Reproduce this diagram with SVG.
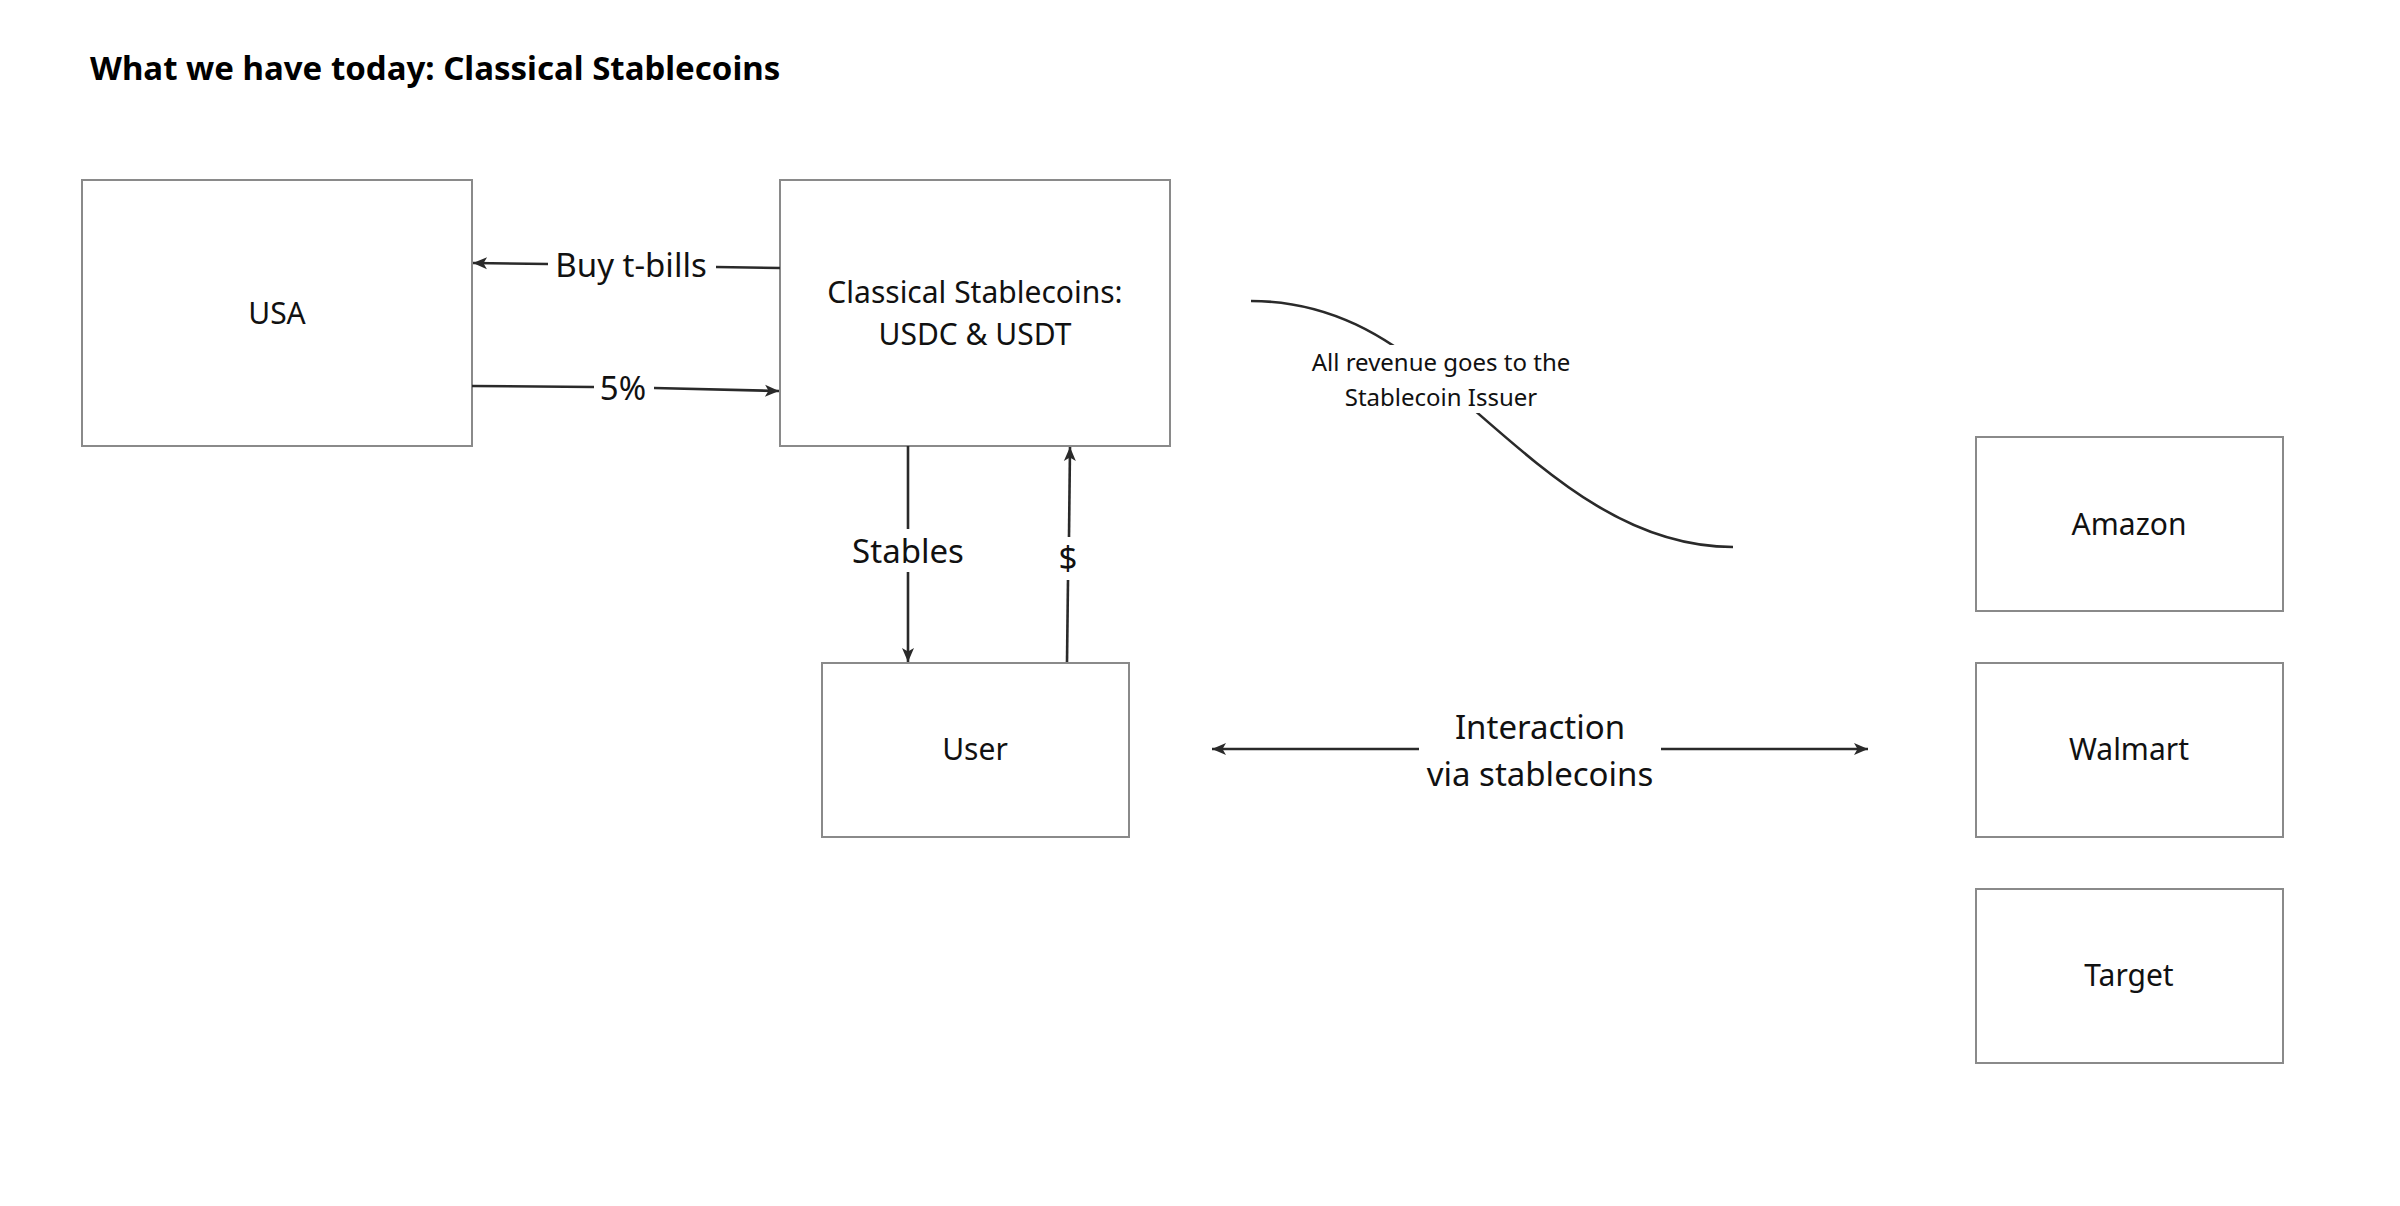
<svg xmlns="http://www.w3.org/2000/svg" width="2400" height="1206" viewBox="0 0 2400 1206">
<style>
.box{fill:#fff;stroke:#8a8a8a;stroke-width:2}
.nt{font-family:"Noto Sans","Open Sans",sans-serif;font-size:30px;fill:#111;text-anchor:middle}
.el{font-family:"Noto Sans","Open Sans",sans-serif;font-size:33px;fill:#111;text-anchor:middle}
.sm{font-family:"Noto Sans","Open Sans",sans-serif;font-size:24px;fill:#111;text-anchor:middle}
.ln{fill:none;stroke:#2a2a2a;stroke-width:2.6}
.ttl{font-family:"Noto Sans","Open Sans",sans-serif;font-size:33px;font-weight:bold;fill:#000}
</style>
<defs>
<marker id="ah" viewBox="0 0 16 16" refX="15" refY="8" markerWidth="16" markerHeight="16" markerUnits="userSpaceOnUse" orient="auto">
<path d="M1,2 L15,8 L1,14 L4.5,8 z" fill="#2a2a2a"/>
</marker>
<mask id="curveMask" maskUnits="userSpaceOnUse" x="0" y="0" width="2400" height="1206">
<rect x="0" y="0" width="2400" height="1206" fill="#fff"/>
<rect x="1300" y="345" width="290" height="68" fill="#000"/>
</mask>
</defs>
<rect width="2400" height="1206" fill="#fff"/>
<text class="ttl" x="90" y="80">What we have today: Classical Stablecoins</text>
<g id="usa"><rect class="box" x="82" y="180" width="390" height="266"/><text class="nt" x="277" y="324">USA</text></g>
<g id="stablecoins"><rect class="box" x="780" y="180" width="390" height="266"/><text class="nt" x="975" y="303">Classical Stablecoins:</text><text class="nt" x="975" y="345">USDC &amp; USDT</text></g>
<g id="user"><rect class="box" x="822" y="663" width="307" height="174"/><text class="nt" x="975" y="760">User</text></g>
<g id="amazon"><rect class="box" x="1976" y="437" width="307" height="174"/><text class="nt" x="2129" y="535">Amazon</text></g>
<g id="walmart"><rect class="box" x="1976" y="663" width="307" height="174"/><text class="nt" x="2129" y="760">Walmart</text></g>
<g id="target"><rect class="box" x="1976" y="889" width="307" height="174"/><text class="nt" x="2129" y="986">Target</text></g>
<g id="connectors">
<path class="ln" d="M780,268 L716,267"/>
<path class="ln" d="M548,264 L473,263" marker-end="url(#ah)"/>
<text class="el" x="631" y="277">Buy t-bills</text>
<path class="ln" d="M472,386 L594,387"/>
<path class="ln" d="M654,388 L779,391" marker-end="url(#ah)"/>
<text class="el" x="623" y="400">5%</text>
<path class="ln" d="M908,446 L908,529"/>
<path class="ln" d="M908,572 L908,662" marker-end="url(#ah)"/>
<text class="el" x="908" y="563">Stables</text>
<path class="ln" d="M1067,662 L1068,580"/>
<path class="ln" d="M1069,537 L1070,447" marker-end="url(#ah)"/>
<text class="el" x="1068" y="570">$</text>
<path class="ln" d="M1419,749 L1212,749" marker-end="url(#ah)"/>
<path class="ln" d="M1661,749 L1868,749" marker-end="url(#ah)"/>
<text class="el" x="1540" y="739">Interaction</text>
<text class="el" x="1540" y="786">via stablecoins</text>
<path class="ln" mask="url(#curveMask)" d="M1251,301 C1331,301 1388,337.5 1438,379 C1528,454 1613,547 1733,547"/>
<text class="sm" x="1441" y="371">All revenue goes to the</text>
<text class="sm" x="1441" y="406">Stablecoin Issuer</text>
</g>
</svg>
